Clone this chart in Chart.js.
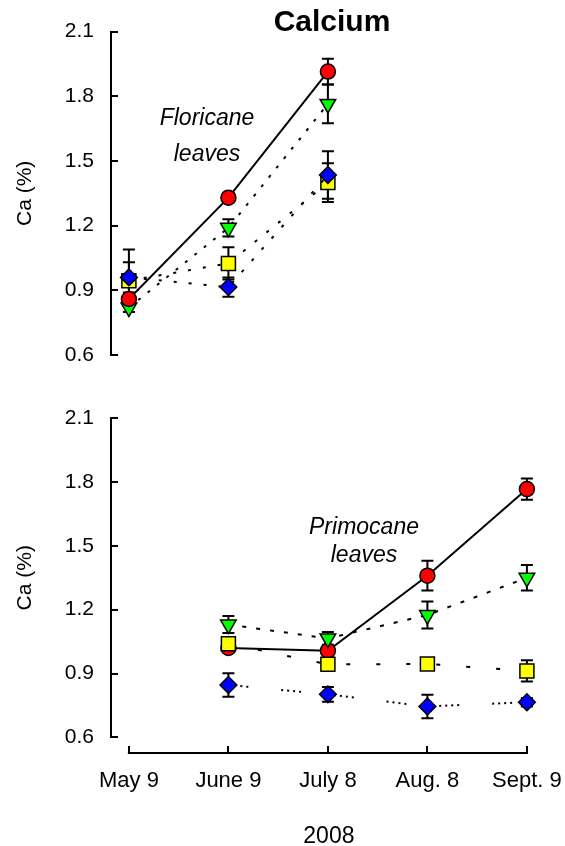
<!DOCTYPE html>
<html><head><meta charset="utf-8">
<script src="https://cdn.jsdelivr.net/npm/chart.js@4.4.1/dist/chart.umd.min.js"></script>
<style>
html,body{margin:0;padding:0;background:#fff;}
body{width:565px;height:846px;position:relative;overflow:hidden;}
.wrap{position:absolute;left:0;width:565px;}
#w1{top:0;height:390px;} #w2{top:390px;height:456px;}
</style></head><body>
<div class="wrap" id="w1"><canvas id="c1" width="565" height="390" style="width:565px;height:390px"></canvas></div>
<div class="wrap" id="w2"><canvas id="c2" width="565" height="456" style="width:565px;height:456px"></canvas></div>
<script>
// ---------- data ----------
const dates = ['May 9', 'June 9', 'July 8', 'Aug. 8', 'Sept. 9'];
const yTickValues = [0.6, 0.9, 1.2, 1.5, 1.8, 2.1];
const yLabel = 'Ca (%)';
const xLabel = '2008';
const chartTitle = 'Calcium';

// Floricane leaves (top panel)
const floRed = [0.86, 1.33, 1.915, null, null];
const floRedErr = [0.03, 0.02, 0.06, null, null];
const floGreen = [0.82, 1.19, 1.765, null, null];
const floGreenErr = [0.02, 0.04, 0.09, null, null];
const floYellow = [0.945, 1.025, 1.40, null, null];
const floYellowErr = [0.085, 0.075, 0.09, null, null];
const floBlue = [0.96, 0.915, 1.435, null, null];
const floBlueErr = [0.13, 0.045, 0.11, null, null];

// Primocane leaves (bottom panel)
const priRed = [null, 1.02, 1.007, 1.36, 1.767];
const priRedErr = [null, 0.02, 0.02, 0.07, 0.05];
const priGreen = [null, 1.13, 1.065, 1.175, 1.35];
const priGreenErr = [null, 0.04, 0.03, 0.063, 0.06];
const priYellow = [null, 1.04, 0.943, 0.945, 0.912];
const priYellowErr = [null, 0.02, 0.02, 0.02, 0.05];
const priBlue = [null, 0.846, 0.802, 0.745, 0.765];
const priBlueErr = [null, 0.055, 0.035, 0.055, 0.02];

// ---------- styles ----------
const FONT = "'Liberation Sans', Arial, Helvetica, sans-serif";
const styleRed = {pointStyle:'circle', pointRadius:7.5, pointBackgroundColor:'#ff0000'};
const styleGreen = {pointStyle:'triangle', rotation:180, pointRadius:9, pointBackgroundColor:'#00ff00'};
const styleYellow = {pointStyle:'rect', pointRadius:9.9, pointBackgroundColor:'#ffff00'};
const styleBlue = {pointStyle:'rectRot', pointRadius:8.4, pointBackgroundColor:'#0000ff'};

function makeDataset(vals, errs, style, dash, order) {
  return Object.assign({
    data: vals.map((v, i) => ({x: i, y: v})),
    errors: errs,
    order: order,
    showLine: true,
    spanGaps: false,
    borderColor: '#000',
    borderWidth: 2,
    pointBorderColor: '#000',
    pointBorderWidth: 1.5,
    pointHoverRadius: style.pointRadius,
    fill: false,
    tension: 0,
    clip: false
  }, style, {borderDash: dash});
}

// ---------- plugins ----------
const errorBars = {
  id: 'errorBars',
  beforeDatasetsDraw(chart) {
    const ctx = chart.ctx, xs = chart.scales.x, ys = chart.scales.y;
    ctx.save();
    ctx.strokeStyle = '#000';
    ctx.lineWidth = 2;
    ctx.setLineDash([]);
    chart.data.datasets.forEach(ds => {
      (ds.errors || []).forEach((e, i) => {
        const p = ds.data[i];
        if (!p || p.y == null || !e) return;
        const px = xs.getPixelForValue(p.x);
        const y1 = ys.getPixelForValue(p.y + e), y2 = ys.getPixelForValue(p.y - e);
        ctx.beginPath();
        ctx.moveTo(px, y1); ctx.lineTo(px, y2);
        ctx.moveTo(px - 6, y1); ctx.lineTo(px + 6, y1);
        ctx.moveTo(px - 6, y2); ctx.lineTo(px + 6, y2);
        ctx.stroke();
      });
    });
    ctx.restore();
  }
};

const sigmaAxes = {
  id: 'sigmaAxes',
  afterDraw(chart, args, opts) {
    const ctx = chart.ctx, ca = chart.chartArea, ys = chart.scales.y, xs = chart.scales.x;
    ctx.save();
    ctx.strokeStyle = '#000';
    ctx.lineWidth = 2;
    ctx.setLineDash([]);
    ctx.beginPath();
    ys.ticks.forEach(t => {
      const py = Math.round(ys.getPixelForValue(t.value));
      ctx.moveTo(ca.left, py); ctx.lineTo(ca.left + 7, py);
    });
    ctx.stroke();
    if (opts.xAxis) {
      const yy = Math.round(ca.bottom + 16);
      const x0 = xs.getPixelForValue(0), x1 = xs.getPixelForValue(dates.length - 1);
      ctx.beginPath();
      ctx.moveTo(x0 - 1, yy); ctx.lineTo(x1 + 1, yy);
      dates.forEach((d, i) => {
        const px = Math.round(xs.getPixelForValue(i));
        ctx.moveTo(px, yy); ctx.lineTo(px, yy - 7);
      });
      ctx.stroke();
    }
    ctx.restore();
  }
};

const texts = {
  id: 'texts',
  afterDraw(chart, args, opts) {
    const ctx = chart.ctx;
    ctx.save();
    ctx.fillStyle = '#000';
    ctx.textAlign = 'center';
    ctx.textBaseline = 'alphabetic';
    (opts.items || []).forEach(t => { ctx.font = t.font; ctx.fillText(t.text, t.x, t.y); });
    ctx.restore();
  }
};

function makeOptions(showX, padding, items) {
  return {
    responsive: false,
    maintainAspectRatio: false,
    animation: false,
    devicePixelRatio: 1,
    layout: {padding: padding, autoPadding: false},
    plugins: {
      legend: {display: false},
      tooltip: {enabled: false},
      title: {display: false},
      sigmaAxes: {xAxis: showX},
      texts: {items: items}
    },
    scales: {
      x: {
        type: 'linear', min: -0.18, max: 4.2, display: showX,
        grid: {display: false, drawTicks: false}, border: {display: false},
        afterBuildTicks: s => { s.ticks = dates.map((d, i) => ({value: i})); },
        ticks: {callback: v => dates[Math.round(v)], font: {family: FONT, size: 22}, color: '#000',
                padding: 30, maxRotation: 0, minRotation: 0, autoSkip: false},
        title: {display: true, text: xLabel, color: '#000', font: {family: FONT, size: 23, lineHeight: 0.78}, padding: 0},
        afterFit: s => { s.height = showX ? 108.7 : 0; s.paddingLeft = 0; s.paddingRight = 0; }
      },
      y: {
        type: 'linear', min: 0.6, max: 2.1,
        grid: {display: false, drawTicks: false},
        border: {display: true, width: 2, color: '#000'},
        afterBuildTicks: s => { s.ticks = yTickValues.map(v => ({value: v})); },
        ticks: {callback: v => Number(v).toFixed(1), font: {family: FONT, size: 21}, color: '#000', padding: 17},
        title: {display: true, text: yLabel, color: '#000', font: {family: FONT, size: 21}, padding: {top: 13, bottom: 0}},
        afterFit: s => { s.width = 111; s.paddingTop = 0; s.paddingBottom = 0; }
      }
    }
  };
}

new Chart(document.getElementById('c1'), {
  type: 'line',
  data: {datasets: [
    makeDataset(floRed, floRedErr, styleRed, [], 0),
    makeDataset(floBlue, floBlueErr, styleBlue, [3, 12], 1),
    makeDataset(floYellow, floYellowErr, styleYellow, [3, 12], 2),
    makeDataset(floGreen, floGreenErr, styleGreen, [3, 9], 3)
  ]},
  options: makeOptions(false, {top: 31.7, bottom: 35, left: 0, right: 18.2}, [
    {text: chartTitle, font: 'bold 30px ' + FONT, x: 332, y: 31},
    {text: 'Floricane', font: 'italic 23px ' + FONT, x: 207, y: 125},
    {text: 'leaves', font: 'italic 23px ' + FONT, x: 207, y: 161}
  ]),
  plugins: [errorBars, sigmaAxes, texts]
});

new Chart(document.getElementById('c2'), {
  type: 'line',
  data: {datasets: [
    makeDataset(priYellow, priYellowErr, styleYellow, [4, 26], 0),
    makeDataset(priGreen, priGreenErr, styleGreen, [4, 10], 1),
    makeDataset(priBlue, priBlueErr, styleBlue, [2, 4, 2, 4, 2, 4, 2, 33], 2),
    makeDataset(priRed, priRedErr, styleRed, [], 3)
  ]},
  options: makeOptions(true, {top: 28.3, bottom: 0, left: 0, right: 18.2}, [
    {text: 'Primocane', font: 'italic 23px ' + FONT, x: 364, y: 144},
    {text: 'leaves', font: 'italic 23px ' + FONT, x: 364, y: 172}
  ]),
  plugins: [errorBars, sigmaAxes, texts]
});
</script>
</body></html>
